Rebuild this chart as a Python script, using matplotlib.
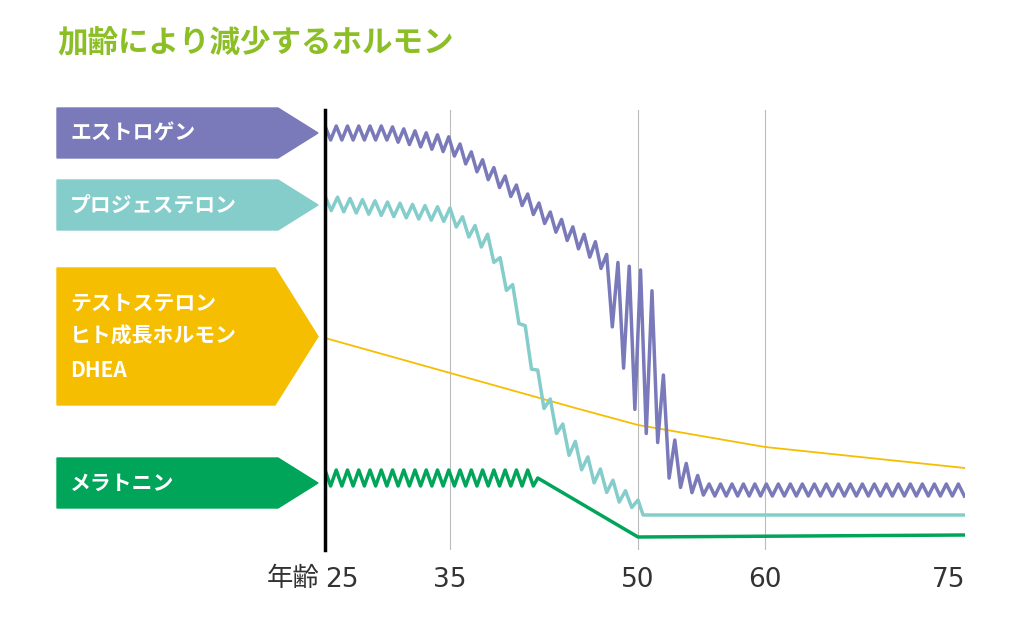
import numpy as np
import matplotlib
matplotlib.use("Agg")
import matplotlib.pyplot as plt
from matplotlib.patches import Polygon

plt.rcParams["font.family"] = ["Noto Sans CJK JP", "DejaVu Sans"]

W, H = 1024, 622
title = "加齢により減少するホルモン"
xticks = [25, 35, 50, 60, 75]
xlabel = "年齢"

# key levels (vertical position units, larger = lower), amplitude of zigzag
estro_age = [25, 30, 35, 39, 43, 47, 47.8, 49, 50.2, 51.5, 52.2, 53, 54, 55.5, 75]
estro_mid = [133, 133, 145, 180, 220, 255, 290, 320, 350, 370, 440, 465, 480, 490, 490]
estro_amp = [7, 7, 8, 8, 8, 10, 30, 55, 80, 70, 35, 20, 12, 6, 6]

prog_age = [25, 35, 38.2, 40.2, 42.2, 44.2, 46.2, 48.6, 50.0, 50.4, 75]
prog_mid = [203, 215, 245, 300, 390, 440, 470, 495, 505, 515, 515]
prog_amp = [7, 7, 9, 10, 11, 11, 10, 8, 5, 0, 0]

mela_age = [25, 42, 50.0, 75]
mela_mid = [478, 478, 537, 535]
mela_amp = [8, 8, 0, 0]

dhea_age = [25, 35, 45, 50, 60, 75]
dhea_val = [338, 373, 408, 425, 447, 468]

labels = ["エストロゲン", "プロジェステロン", "テストステロン\nヒト成長ホルモン\nDHEA", "メラトニン"]
colors = ["#7a7aba", "#84cdcb", "#f6be00", "#00a55a"]
boxes = [(108, 158), (180, 230), (268, 405), (458, 508)]

# horizontal scale of the reference (age -> pixel), slightly non-linear
scale_age = [25, 35, 50, 60, 75]
scale_px = [325, 450, 638, 765, 965]


def X(a):
    return np.interp(a, scale_age, scale_px)


def zig(ages, mids, amps, step, end):
    a = np.arange(ages[0], end + 1e-9, step)
    m = np.interp(a, ages, mids)
    am = np.interp(a, ages, amps)
    sign = np.where(np.arange(len(a)) % 2 == 0, -1, 1)
    return a, m + sign * am


fig = plt.figure(figsize=(W / 100, H / 100), dpi=100)
ax = fig.add_axes([325 / W, (H - 550) / H, 640 / W, 440 / H])
ax.set_xlim(325, 965)
ax.set_ylim(550, 110)
for s in ["top", "right", "bottom"]:
    ax.spines[s].set_visible(False)
ax.spines["left"].set_linewidth(2.5)
ax.set_yticks([])
ax.set_xticks([])
for g in [35, 50, 60]:
    ax.axvline(X(g), color="#bbbbbb", lw=0.8, zorder=0)

ax.plot(X(np.linspace(25, 75, 200)), np.interp(np.linspace(25, 75, 200), dhea_age, dhea_val),
        color=colors[2], lw=1.3)
x, y = zig(estro_age, estro_mid, estro_amp, 0.45, 75)
ax.plot(X(x), y, color=colors[0], lw=2.5)
x, y = zig(prog_age, prog_mid, prog_amp, 0.5, 50.0)
x = np.append(x, prog_age[-2:]); y = np.append(y, prog_mid[-2:])
ax.plot(X(x), y, color=colors[1], lw=2.5)
x, y = zig(mela_age[:2], mela_mid[:2], mela_amp[:2], 0.45, 42)
x = np.append(x, mela_age[1:]); y = np.append(y, mela_mid[1:])
ax.plot(X(x), y, color=colors[3], lw=2.5)

tick_ha = {25: "left", 75: "right"}
for t in xticks:
    fig.text(X(t) / W, 1 - 580 / H, str(t), ha=tick_ha.get(t, "center"), va="center",
             fontsize=19, color="#333333", fontfamily="DejaVu Sans")
fig.text(319 / W, 1 - 578 / H, xlabel, ha="right", va="center", fontsize=19, color="#333333")
fig.text(57 / W, 1 - 42 / H, title, ha="left", va="center", fontsize=22, fontweight="bold", color="#8cbf26")


def P(px, py):
    return (px / W, 1 - py / H)


for lab, col, (t, b) in zip(labels, colors, boxes):
    mid = (t + b) / 2
    tipx = 318
    notch = 278 if b - t < 100 else 275
    pts = [P(57, t), P(notch, t), P(tipx, mid), P(notch, b), P(57, b)]
    fig.patches.append(Polygon(pts, closed=True, transform=fig.transFigure, color=col))
    fig.text(70 / W, 1 - mid / H, lab, ha="left", va="center", fontsize=15,
             fontweight="bold", color="white", linespacing=1.75)

fig.savefig("out.png", dpi=100)
